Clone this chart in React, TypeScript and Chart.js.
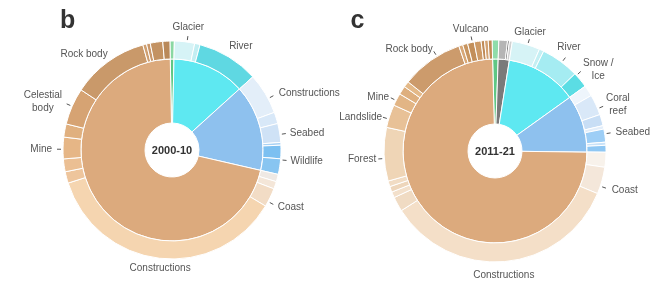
import React, { useEffect, useRef } from 'react';
import Chart from 'chart.js/auto';

const FONT = '"Liberation Sans", Arial, Helvetica, sans-serif';

// ---------- Panel b : 2000-10 ----------
const B_INNER_LABELS = ['Biota', 'Freshwater', 'Marine', 'Land'];
const B_INNER_VALUES = [0.65, 12.95, 15.3, 71.1];
const B_INNER_COLORS = ['#5fc784', '#5ee8f1', '#8ec1ee', '#dcaa7d'];

const B_OUTER_LABELS = [
  'Biota', 'Glacier', 'Lake', 'River',
  'Marine constructions', 'Marine other', 'Seabed', 'Marine misc', 'Wildlife A', 'Wildlife B',
  'Coast A', 'Coast B', 'Coast C', 'Constructions', 'Mine A', 'Mine B', 'Mine C', 'Mine D',
  'Celestial body', 'Rock body', 'Rock A', 'Rock B', 'Rock C', 'Rock D',
];
const B_OUTER_VALUES = [
  0.65, 3.0, 0.8, 9.15,
  6.1, 1.7, 2.8, 0.4, 2.0, 2.3,
  1.1, 1.1, 2.8, 36.5, 1.7, 1.9, 3.2, 1.95,
  5.45, 11.4, 0.55, 0.55, 1.85, 1.05,
];
const B_OUTER_COLORS = [
  '#8ad8a3', '#d6f3f6', '#c2eef2', '#5fd8e2',
  '#e3eef9', '#d8e8f8', '#cfe2f6', '#a9d2f4', '#7cc0f1', '#88c5f1',
  '#efe9e4', '#f4e6d8', '#f2dcc5', '#f5d5b0', '#eec59c', '#ebbf93', '#e6b686', '#e0b07f',
  '#d6a373', '#c9996a', '#cf9f70', '#c9976a', '#c39262', '#b9895a',
];

// ---------- Panel c : 2011-21 ----------
const C_INNER_LABELS = ['Biota', 'Atmosphere', 'Freshwater', 'Marine', 'Land'];
const C_INNER_VALUES = [0.97, 1.95, 12.6, 10.1, 74.4];
const C_INNER_COLORS = ['#5fc784', '#7a7a7a', '#5ee8f1', '#8ec1ee', '#dcaa7d'];

const C_OUTER_LABELS = [
  'Biota', 'Atmo A', 'Atmo B', 'Atmo C',
  'Glacier', 'Lake', 'River', 'Snow / Ice',
  'Marine A', 'Coral reef A', 'Coral reef B', 'Marine B', 'Seabed', 'Marine C', 'Marine D',
  'Coast A', 'Coast B', 'Constructions', 'Land A', 'Land B', 'Land C', 'Land D',
  'Forest', 'Landslide', 'Mine A', 'Mine B', 'Mine C', 'Rock body',
  'Vulcano A', 'Vulcano B', 'Vulcano C', 'Vulcano D', 'Vulcano E', 'Vulcano F', 'Vulcano G',
];
const C_OUTER_VALUES = [
  0.97, 1.25, 0.28, 0.42,
  4.05, 0.67, 5.56, 2.3,
  1.6, 3.0, 1.65, 0.5, 1.9, 0.45, 1.0,
  2.17, 3.92, 34.72, 2.14, 0.86, 0.83, 0.83,
  7.78, 3.36, 1.81, 1.25, 0.86, 9.03,
  0.58, 0.72, 0.97, 1.0, 0.5, 0.53, 0.56,
];
const C_OUTER_COLORS = [
  '#8fdcaa', '#b5b5b5', '#6e6e6e', '#d0d0d0',
  '#d6f3f6', '#c4eff3', '#a5ecf2', '#5bdde4',
  '#eef5fc', '#d9e8f8', '#c8def5', '#e3eefa', '#9dcef6', '#c9e2f8', '#8fc7f3',
  '#f8f2eb', '#f4e7da', '#f4dfc8', '#f0dbc3', '#f3e0cb', '#eed6bb', '#f1dcc4',
  '#efd5b6', '#e8c197', '#e2b585', '#deaf7e', '#e4b988', '#cc9b6c',
  '#d8a877', '#c8955f', '#c38f5a', '#cd9a66', '#c08b57', '#d3a271', '#bf8a56',
];

type LabelSpec = {
  text: string[];
  from: string;
  to: string;
  align: 'left' | 'right' | 'center';
  tick: boolean;
  dAng: number;
  dR: number;
};

const B_LABELS: LabelSpec[] = [
  { text: ['Glacier'], from: 'Glacier', to: 'Glacier', align: 'center', tick: true, dAng: 1.3, dR: 9 },
  { text: ['River'], from: 'River', to: 'River', align: 'center', tick: false, dAng: 3.6, dR: 11 },
  { text: ['Constructions'], from: 'Marine constructions', to: 'Marine constructions', align: 'left', tick: true, dAng: 3, dR: 12 },
  { text: ['Seabed'], from: 'Seabed', to: 'Seabed', align: 'left', tick: true, dAng: 0.8, dR: 10 },
  { text: ['Wildlife'], from: 'Wildlife A', to: 'Wildlife B', align: 'left', tick: true, dAng: 0, dR: 10 },
  { text: ['Coast'], from: 'Coast A', to: 'Coast C', align: 'left', tick: true, dAng: 6.3, dR: 11 },
  { text: ['Constructions'], from: 'Constructions', to: 'Constructions', align: 'center', tick: false, dAng: -0.6, dR: 4 },
  { text: ['Mine'], from: 'Mine A', to: 'Mine D', align: 'right', tick: true, dAng: 2.3, dR: 11 },
  { text: ['Celestial', 'body'], from: 'Celestial body', to: 'Celestial body', align: 'right', tick: true, dAng: 0, dR: 11 },
  { text: ['Rock body'], from: 'Rock body', to: 'Rock body', align: 'right', tick: false, dAng: 2, dR: 6 },
];

const C_LABELS: LabelSpec[] = [
  { text: ['Vulcano'], from: 'Vulcano C', to: 'Vulcano D', align: 'center', tick: true, dAng: -1, dR: 8 },
  { text: ['Glacier'], from: 'Glacier', to: 'Glacier', align: 'center', tick: true, dAng: 0.8, dR: 8 },
  { text: ['River'], from: 'River', to: 'River', align: 'center', tick: true, dAng: 1, dR: 12 },
  { text: ['Snow /', 'Ice'], from: 'Snow / Ice', to: 'Snow / Ice', align: 'left', tick: true, dAng: -3, dR: 9 },
  { text: ['Coral', 'reef'], from: 'Coral reef A', to: 'Coral reef B', align: 'left', tick: true, dAng: -0.85, dR: 9 },
  { text: ['Seabed'], from: 'Seabed', to: 'Seabed', align: 'left', tick: true, dAng: -0.9, dR: 11 },
  { text: ['Coast'], from: 'Coast A', to: 'Coast B', align: 'left', tick: true, dAng: 6.9, dR: 12 },
  { text: ['Constructions'], from: 'Constructions', to: 'Constructions', align: 'center', tick: false, dAng: 0.7, dR: 8 },
  { text: ['Forest'], from: 'Forest', to: 'Forest', align: 'right', tick: true, dAng: -2.2, dR: 8 },
  { text: ['Landslide'], from: 'Landslide', to: 'Landslide', align: 'right', tick: true, dAng: -1.6, dR: 7 },
  { text: ['Mine'], from: 'Mine A', to: 'Mine C', align: 'right', tick: true, dAng: -4.4, dR: 8 },
  { text: ['Rock body'], from: 'Rock body', to: 'Rock body', align: 'right', tick: true, dAng: 3.7, dR: 8 },
];

type Panel = {
  letter: string;
  centerText: string;
  innerLabels: string[];
  innerValues: number[];
  innerColors: string[];
  outerLabels: string[];
  outerValues: number[];
  outerColors: string[];
  labels: LabelSpec[];
  rotation: number;
  cx: number;
  cy: number;
  R: number;
  split: number;
  hole: number;
  letterX: number;
  letterY: number;
};

const W = 658;
const H = 281;

const PANELS: Panel[] = [
  {
    letter: 'b', centerText: '2000-10',
    innerLabels: B_INNER_LABELS, innerValues: B_INNER_VALUES, innerColors: B_INNER_COLORS,
    outerLabels: B_OUTER_LABELS, outerValues: B_OUTER_VALUES, outerColors: B_OUTER_COLORS,
    labels: B_LABELS, rotation: -1.1,
    cx: 172, cy: 150, R: 109, split: 91, hole: 27, letterX: 60, letterY: 28,
  },
  {
    letter: 'c', centerText: '2011-21',
    innerLabels: C_INNER_LABELS, innerValues: C_INNER_VALUES, innerColors: C_INNER_COLORS,
    outerLabels: C_OUTER_LABELS, outerValues: C_OUTER_VALUES, outerColors: C_OUTER_COLORS,
    labels: C_LABELS, rotation: -1.5,
    cx: 495, cy: 151, R: 111, split: 92, hole: 27, letterX: 350.5, letterY: 28,
  },
];

function makePlugin(p: Panel) {
  return {
    id: 'sunburstText_' + p.letter,
    afterDatasetsDraw(chart: any) {
      const ctx = chart.ctx as CanvasRenderingContext2D;
      const arcs = chart.getDatasetMeta(0).data as any[];
      if (!arcs.length) return;
      const cx = arcs[0].x;
      const cy = arcs[0].y;
      const R = arcs[0].outerRadius;
      ctx.save();
      ctx.fillStyle = '#333333';
      ctx.font = `bold 11px ${FONT}`;
      ctx.textAlign = 'center';
      ctx.textBaseline = 'middle';
      ctx.fillText(p.centerText, cx, cy + 1);

      ctx.font = `bold 25px ${FONT}`;
      ctx.textAlign = 'left';
      ctx.textBaseline = 'alphabetic';
      ctx.fillText(p.letter, p.letterX, p.letterY);

      ctx.font = `10px ${FONT}`;
      for (const l of p.labels) {
        const i = p.outerLabels.indexOf(l.from);
        const j = p.outerLabels.indexOf(l.to);
        const a = (arcs[i].startAngle + arcs[j].endAngle) / 2 + (l.dAng * Math.PI) / 180;
        const cos = Math.cos(a);
        const sin = Math.sin(a);
        if (l.tick) {
          ctx.strokeStyle = '#555555';
          ctx.lineWidth = 1;
          ctx.beginPath();
          ctx.moveTo(cx + (R + 2) * cos, cy + (R + 2) * sin);
          ctx.lineTo(cx + (R + 6) * cos, cy + (R + 6) * sin);
          ctx.stroke();
        }
        const r = R + l.dR;
        const x = cx + r * cos;
        const y = cy + r * sin;
        const lh = l.text.length > 1 ? 13 : 11;
        const h = l.text.length * lh;
        const mw = Math.max(...l.text.map((t) => ctx.measureText(t).width));
        let top: number;
        if (l.align === 'center') top = sin < 0 ? y - h : y;
        else top = y - h / 2;
        const lineX = l.align === 'left' ? x + mw / 2 : l.align === 'right' ? x - mw / 2 : x;
        ctx.textAlign = 'center';
        ctx.textBaseline = 'middle';
        ctx.fillStyle = '#555555';
        l.text.forEach((t, k) => ctx.fillText(t, lineX, top + lh * (k + 0.5)));
      }
      ctx.restore();
    },
  };
}

function buildChart(canvas: HTMLCanvasElement, p: Panel) {
  const side = 2 * p.R + 1;
  const half = side / 2;
  return new Chart(canvas, {
    type: 'doughnut',
    data: {
      labels: p.outerLabels,
      datasets: [
        {
          data: p.outerValues,
          backgroundColor: p.outerColors,
          borderColor: '#ffffff',
          borderWidth: 1,
          weight: p.R - p.split,
        } as any,
        {
          data: p.innerValues,
          backgroundColor: p.innerColors,
          borderColor: '#ffffff',
          borderWidth: 1,
          weight: p.split - p.hole,
        } as any,
      ],
    },
    options: {
      responsive: false,
      maintainAspectRatio: false,
      animation: false,
      devicePixelRatio: 1,
      events: [],
      rotation: p.rotation,
      cutout: `${(p.hole / p.R) * 100}%`,
      layout: {
        padding: {
          left: p.cx - half,
          right: W - (p.cx + half),
          top: p.cy - half,
          bottom: H - (p.cy + half),
        },
      },
      plugins: {
        legend: { display: false },
        tooltip: { enabled: false },
      },
    } as any,
    plugins: [makePlugin(p)],
  });
}

export default function App() {
  const ref0 = useRef<HTMLCanvasElement>(null);
  const ref1 = useRef<HTMLCanvasElement>(null);

  useEffect(() => {
    const charts: Chart[] = [];
    if (ref0.current) charts.push(buildChart(ref0.current, PANELS[0]));
    if (ref1.current) charts.push(buildChart(ref1.current, PANELS[1]));
    return () => charts.forEach((c) => c.destroy());
  }, []);

  const style: React.CSSProperties = { position: 'absolute', left: 0, top: 0, width: W, height: H };
  return (
    <div style={{ position: 'fixed', left: 0, top: 0, width: W, height: H, background: '#ffffff' }}>
      <canvas ref={ref0} width={W} height={H} style={style} />
      <canvas ref={ref1} width={W} height={H} style={style} />
    </div>
  );
}
